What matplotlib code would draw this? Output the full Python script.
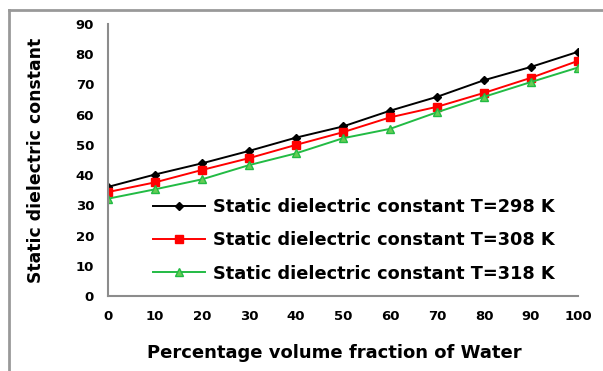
import numpy as np
import matplotlib.pyplot as plt
from matplotlib.lines import Line2D

plt.rcParams['font.family'] = ['DejaVu Sans']
plt.rcParams['font.weight'] = 'bold'

water = [0, 10, 20, 30, 40, 50, 60, 70, 80, 90, 100]
eps_298 = [36.1, 40.2, 43.9, 48.0, 52.4, 56.1, 61.3, 65.9, 71.4, 75.8, 80.8]
eps_308 = [34.4, 37.6, 41.7, 45.6, 50.0, 54.2, 59.1, 62.6, 67.2, 72.2, 77.8]
eps_318 = [32.2, 35.3, 38.6, 43.3, 47.2, 52.2, 55.3, 60.8, 65.9, 70.8, 75.6]
labels = ['Static dielectric constant T=298 K',
          'Static dielectric constant T=308 K',
          'Static dielectric constant T=318 K']


def plot():

    fig = plt.figure(figsize=(6.03, 3.71), dpi=100)
    ax = fig.add_axes([108 / 603, 1 - 296 / 371, 470 / 603, 272 / 371])

    ax.plot(water, eps_298, color='black', marker='D', markersize=4.5, lw=1.4, label=labels[0])
    ax.plot(water, eps_308, color='#ff0000', marker='s', markersize=6, lw=1.4, label=labels[1])
    ax.plot(water, eps_318, color='#22bb44', marker='^', markersize=6,
            markerfacecolor='#66cc55', lw=1.4, label=labels[2])

    ax.set_xlim(0, 100)
    ax.set_ylim(0, 90)
    ax.set_xticks(water)
    ax.set_yticks(np.arange(0, 91, 10))
    ax.tick_params(length=0, labelsize=9.5, pad=10)

    for side in ['top', 'right']:
        ax.spines[side].set_visible(False)
    for side in ['left', 'bottom']:
        ax.spines[side].set_color('#8c8c8c')
        ax.spines[side].set_linewidth(1.5)

    ax.set_xlabel('Percentage volume fraction of Water', fontsize=13, fontweight='bold')
    ax.xaxis.set_label_coords(0.481, -0.176)
    ax.set_ylabel('Static dielectric constant', fontsize=12.4, fontweight='bold', labelpad=22)

    ax.legend(loc='upper left', bbox_to_anchor=(137 / 603, 1 - 182 / 371),
              bbox_transform=fig.transFigure, frameon=False,
              prop={'size': 12.8, 'weight': 'bold'},
              handlelength=2.9, handletextpad=0.45, labelspacing=0.86)

    # outer frame (only left and top visible)
    fig.add_artist(Line2D([9 / 603, 9 / 603], [0, 1 - 10 / 371], color='#999999', lw=2,
                          transform=fig.transFigure))
    fig.add_artist(Line2D([9 / 603, 1], [1 - 10 / 371, 1 - 10 / 371], color='#999999', lw=2,
                          transform=fig.transFigure))

    fig.savefig('out.png', dpi=100)


if __name__ == "__main__":

    plot()
